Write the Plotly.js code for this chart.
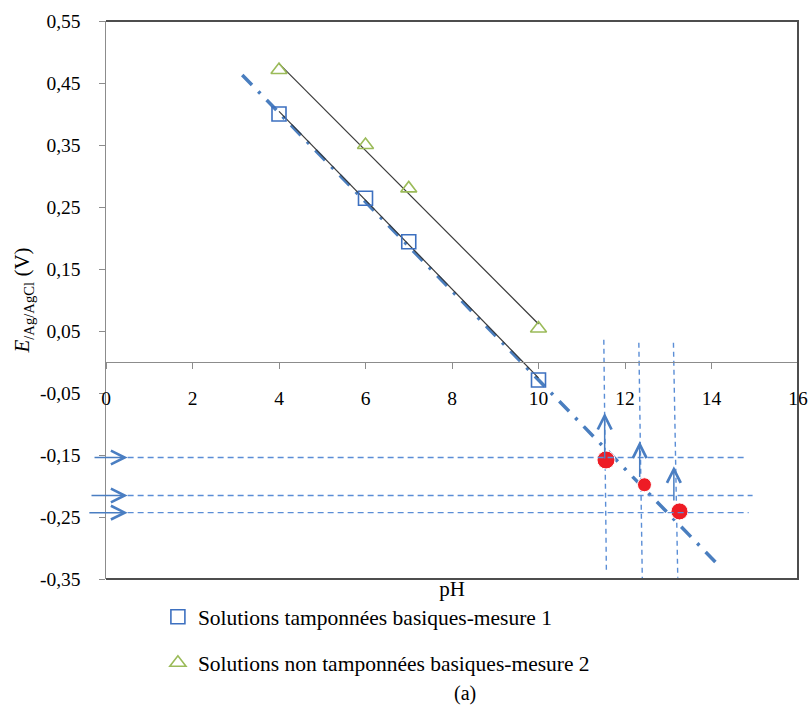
<!DOCTYPE html>
<html>
<head>
<meta charset="utf-8">
<script src="https://cdn.plot.ly/plotly-3.0.1.min.js"></script>
<style>html,body{margin:0;padding:0;background:#fff;}#chart{width:808px;height:711px;}</style>
</head>
<body>
<div id="chart"></div>
<script>
// ---- data ----
const pH1 = [4, 6, 7, 10];
const E1 = [0.400, 0.264, 0.194, -0.029];          // buffered, measure 1
const pH2 = [4, 6, 7, 10];
const E2 = [0.471, 0.350, 0.280, 0.054];           // non-buffered, measure 2
const extX = [3.15, 14.18];                        // blue dash-dot extension
const extY = [0.463, -0.329];
const redX = [11.56, 12.45, 13.26];
const redY = [-0.158, -0.198, -0.241];
const redSize = [18, 14, 17];
const hGuideY = [-0.154, -0.2153, -0.2430];
const hGuideX0 = [0.5, 0.5, 0.5];
const hGuideX1 = [14.75, 14.95, 14.86];
const hArrowTailX = [-0.30, -0.37, -0.42];
const vGuideXTop = [11.51, 12.32, 13.12];
const vGuideXBot = [11.57, 12.40, 13.22];
const vGuideYTop = [0.036, 0.031, 0.031];
const vGuideYBot = [-0.340, -0.350, -0.348];
const vArrowX = [11.53, 12.34, 13.13];
const vArrowTailY = [-0.158, -0.188, -0.226];
const vArrowTipY = [-0.082, -0.128, -0.168];
const xTickVals = [0, 2, 4, 6, 8, 10, 12, 14, 16];
const xTickText = ['0', '2', '4', '6', '8', '10', '12', '14', '16'];
const yTickVals = [0.55, 0.45, 0.35, 0.25, 0.15, 0.05, -0.05, -0.15, -0.25, -0.35];
const yTickText = ['0,55', '0,45', '0,35', '0,25', '0,15', '0,05', '-0,05', '-0,15', '-0,25', '-0,35'];
const legendNames = ['Solutions tamponnées basiques-mesure 1', 'Solutions non tamponnées basiques-mesure 2'];

// linear trendline (least squares), as the spreadsheet does
function trend(xs, ys) {
  const n = xs.length;
  const mx = xs.reduce((a, b) => a + b, 0) / n;
  const my = ys.reduce((a, b) => a + b, 0) / n;
  let sxy = 0, sxx = 0;
  for (let i = 0; i < n; i++) { sxy += (xs[i] - mx) * (ys[i] - my); sxx += (xs[i] - mx) ** 2; }
  const s = sxy / sxx, b = my - s * mx;
  const x0 = Math.min(...xs), x1 = Math.max(...xs);
  return { x: [x0, x1], y: [s * x0 + b, s * x1 + b] };
}
const t1 = trend(pH1, E1), t2 = trend(pH2, E2);

const FONT = '"Liberation Serif", "Times New Roman", serif';
const guideColor = '#5b8ed6';
const arrowColor = '#4a7ec2';

// guides with null separators
const hx = [], hy = [];
hGuideY.forEach((y, i) => { hx.push(hGuideX0[i], hGuideX1[i], null); hy.push(y, y, null); });
const vx = [], vy = [];
vGuideXTop.forEach((x, i) => { vx.push(x, vGuideXBot[i], null); vy.push(vGuideYTop[i], vGuideYBot[i], null); });

const traces = [
  { x: hx, y: hy, mode: 'lines', line: { color: guideColor, width: 1.4, dash: '6px,4px' }, showlegend: false, hoverinfo: 'skip', xaxis: 'x2' },
  { x: vx, y: vy, mode: 'lines', line: { color: guideColor, width: 1.4, dash: '5px,4px' }, showlegend: false, hoverinfo: 'skip' },
  { x: extX, y: extY, mode: 'lines', line: { color: '#4a7ebf', width: 3.5, dash: '14px,9px,3px,9px' }, showlegend: false, hoverinfo: 'skip' },
  { x: t1.x, y: t1.y, mode: 'lines', line: { color: '#3a3a3a', width: 1.2 }, showlegend: false, hoverinfo: 'skip' },
  { x: t2.x, y: t2.y, mode: 'lines', line: { color: '#3a3a3a', width: 1.2 }, showlegend: false, hoverinfo: 'skip' },
  { x: pH1, y: E1, mode: 'markers', name: legendNames[0], legendgroup: 'g1',
    marker: { symbol: 'square-open', size: 14, color: '#3d70c0', line: { width: 1.6 } } },
  { x: pH2, y: E2, mode: 'markers', name: legendNames[1], legendgroup: 'g2',
    marker: { symbol: 'triangle-up-open', size: 14, color: '#9bbb59', line: { width: 1.6 } } },
  { x: redX, y: redY, mode: 'markers', marker: { color: '#ee1c25', size: redSize, opacity: 1 }, showlegend: false, cliponaxis: false }
];

const annotations = [];
hGuideY.forEach((y, i) => annotations.push({
  x: hGuideX0[i], y: y, ax: hArrowTailX[i], ay: y, xref: 'x', yref: 'y', axref: 'x', ayref: 'y',
  text: '', showarrow: true, arrowhead: 5, arrowsize: 1.8, arrowwidth: 1.5, arrowcolor: arrowColor
}));
vArrowX.forEach((x, i) => annotations.push({
  x: x, y: vArrowTipY[i], ax: x, ay: vArrowTailY[i], xref: 'x', yref: 'y', axref: 'x', ayref: 'y',
  text: '', showarrow: true, arrowhead: 5, arrowsize: 1.8, arrowwidth: 1.5, arrowcolor: arrowColor
}));
annotations.push({ text: '(a)', xref: 'paper', yref: 'paper', x: 0.519, y: -0.206, yanchor: 'middle', showarrow: false,
  font: { family: FONT, size: 20, color: '#000' } });

const layout = {
  width: 808, height: 711,
  margin: { l: 106, r: 10, t: 21, b: 132 },
  paper_bgcolor: '#fff', plot_bgcolor: '#fff',
  font: { family: FONT, size: 19, color: '#000' },
  separators: ', ',
  showlegend: true,
  legend: { x: 0.075, y: -0.031, xanchor: 'left', yanchor: 'top', traceorder: 'grouped', tracegroupgap: 15,
    font: { family: FONT, size: 21.5, color: '#000' }, bgcolor: 'rgba(0,0,0,0)', borderwidth: 0 },
  xaxis: { range: [0, 16], showline: false, showgrid: false, zeroline: false, ticks: '', showticklabels: false,
    title: { text: 'pH', font: { family: FONT, size: 21 }, standoff: 2 }, fixedrange: true },
  xaxis2: { overlaying: 'x', anchor: 'free', position: 0.38889, side: 'bottom', range: [0, 16],
    tickmode: 'array', tickvals: xTickVals, ticktext: xTickText, ticks: 'outside', ticklen: 6, tickcolor: '#8c8c8c',
    showline: true, linecolor: '#8c8c8c', linewidth: 1.5, showgrid: false, zeroline: false,
    ticklabelstandoff: 12, tickfont: { family: FONT, size: 19.5 } },
  yaxis: { range: [-0.35, 0.55], tickmode: 'array', tickvals: yTickVals, ticktext: yTickText,
    ticks: 'outside', ticklen: 6, tickcolor: '#8c8c8c', showline: true, linecolor: '#8c8c8c', linewidth: 1.5,
    showgrid: false, zeroline: false, ticklabelstandoff: 14, tickfont: { family: FONT, size: 19.5 },
    title: { text: '<i>E</i><sub>/Ag/AgCl</sub> (V)', font: { family: FONT, size: 21 }, standoff: 4 } },
  shapes: [
    { type: 'path', xref: 'paper', yref: 'paper', path: 'M0,1 L1,1 L1,0 L0,0',
      line: { color: '#4d4d4d', width: 2 } }
  ],
  annotations: annotations
};

Plotly.newPlot('chart', traces, layout, { staticPlot: true });
</script>
</body>
</html>
